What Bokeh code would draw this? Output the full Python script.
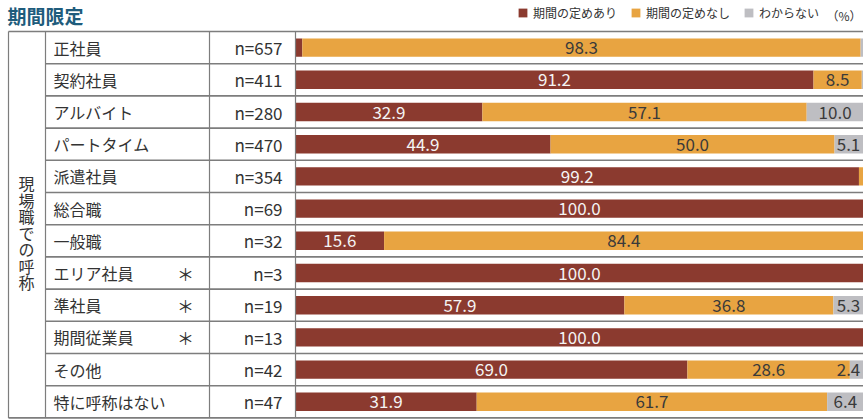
from bokeh.plotting import figure
from bokeh.models import ColumnDataSource, Range1d, Label, Legend
from bokeh.core.properties import value
from bokeh.embed import file_html
from bokeh.resources import INLINE

# ---- data ----
categories = ["正社員", "契約社員", "アルバイト", "パートタイム", "派遣社員", "総合職",
              "一般職", "エリア社員", "準社員", "期間従業員", "その他", "特に呼称はない"]
n_values = [657, 411, 280, 470, 354, 69, 32, 3, 19, 13, 42, 47]
starred = ["エリア社員", "準社員", "期間従業員"]
fixed_yes = [1.2, 91.2, 32.9, 44.9, 99.2, 100.0, 15.6, 100.0, 57.9, 100.0, 69.0, 31.9]
fixed_no = [98.3, 8.5, 57.1, 50.0, 0.8, 0.0, 84.4, 0.0, 36.8, 0.0, 28.6, 61.7]
unknown = [0.5, 0.3, 10.0, 5.1, 0.0, 0.0, 0.0, 0.0, 5.3, 0.0, 2.4, 6.4]
series_names = ["期間の定めあり", "期間の定めなし", "わからない"]
colors = ["#8B3A2F", "#E8A441", "#BEBEC2"]
title_text = "期間限定"
side_header = "現場職での呼称"

FONT = "Noto Sans CJK JP"
W, H = 863, 419
X0 = 295.0      # px where bars start
S = 5.68        # px per percent
TOP = 31.0      # px of table top
RH = 32.2       # row height px


def px(xp):
    return (xp - X0) / S


def py(yp):
    return (yp - TOP) / RH - 0.5


p = figure(width=W, height=H, x_range=Range1d(px(0), px(W)),
           y_range=Range1d(py(H), py(0)), toolbar_location=None,
           output_backend="svg", min_border=0, x_axis_type=None, y_axis_type=None)
p.grid.visible = False
p.outline_line_color = None
p.background_fill_color = "white"

nrow = len(categories)
ys = list(range(nrow))
src = ColumnDataSource(dict(y=ys, a=fixed_yes, b=fixed_no, c=unknown))
rends = p.hbar_stack(["a", "b", "c"], y="y", height=0.57, color=colors, source=src,
                     line_color=None)

# ---- table lines ----
line_col = "#7d7d7d"
hx0, hx1, hy = [], [], []
hx0.append(px(8)); hx1.append(px(W)); hy.append(-0.5)
for i in range(nrow - 1):
    hx0.append(px(45)); hx1.append(px(W)); hy.append(i + 0.5)
hx0.append(px(8)); hx1.append(px(W)); hy.append(nrow - 0.5)
p.segment(x0=hx0, x1=hx1, y0=hy, y1=hy, line_color=line_col, line_width=1.6)
vx = [px(8), px(45), px(209), px(295)]
p.segment(x0=vx, x1=vx, y0=[-0.5] * 4, y1=[nrow - 0.5] * 4, line_color=line_col, line_width=1.2)

# ---- row texts ----
p.text(x=[px(53)] * nrow, y=ys, text=categories, text_font=value(FONT),
       text_font_size="16px", text_color="#333333", text_baseline="middle", text_align="left")
p.text(x=[px(282)] * nrow, y=ys, text=[f"n={v}" for v in n_values], text_font=value(FONT),
       text_font_size="17px", text_color="#333333", text_baseline="middle", text_align="right")
sy = [categories.index(c) for c in starred]
p.text(x=[px(185)] * len(sy), y=sy, text=["＊"] * len(sy), text_font=value(FONT),
       text_font_size="17px", text_color="#333333", text_baseline="middle", text_align="center")

chars = list(side_header)
cy = [py(232 + (k - 3) * 16.5) for k in range(len(chars))]
p.text(x=[px(26)] * len(chars), y=cy, text=chars, text_font=value(FONT),
       text_font_size="16px", text_color="#333333", text_baseline="middle", text_align="center")

# ---- value labels ----
max_center = px(W - 15)
lx, ly, lt, lc = [], [], [], []
for i in range(nrow):
    start = 0.0
    for k, v in enumerate([fixed_yes[i], fixed_no[i], unknown[i]]):
        if v >= 2.0:
            lx.append(min(start + v / 2, max_center))
            ly.append(i)
            lt.append(f"{v:.1f}")
            lc.append("#f4f4f4" if k == 0 else "#3a3a3a")
        start += v
p.text(x=lx, y=ly, text=lt, text_color=lc, text_font=value(FONT), text_font_size="17px",
       text_baseline="middle", text_align="center")

# ---- title & legend ----
p.add_layout(Label(x=7, y=H - 1, x_units="screen", y_units="screen", text=title_text,
                   text_font=FONT, text_font_size="19px", text_font_style="bold",
                   text_color="#1e5c7c", text_baseline="top"))
legend = Legend(items=[(series_names[k], [rends[k]]) for k in range(3)],
                orientation="horizontal", location=(517, H - 21),
                glyph_width=11, glyph_height=11, label_standoff=5, spacing=13,
                padding=0, margin=0, label_height=12,
                label_text_font=FONT, label_text_font_size="12px", label_text_color="#333333",
                border_line_alpha=0, background_fill_alpha=0)
p.add_layout(legend)
p.add_layout(Label(x=861, y=H - 15, x_units="screen", y_units="screen", text="（%）",
                   text_font=FONT, text_font_size="12px", text_color="#333333",
                   text_baseline="middle", text_align="right"))

open("out.html", "w").write(file_html(p, INLINE))
